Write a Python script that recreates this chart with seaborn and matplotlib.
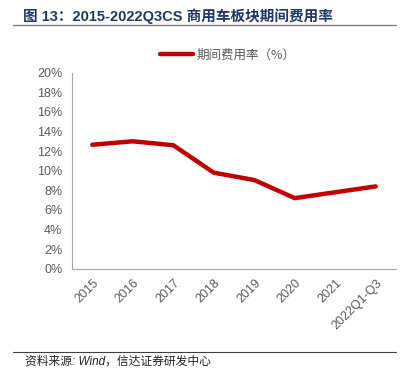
import matplotlib
matplotlib.use("Agg")
import matplotlib.pyplot as plt
import seaborn as sns
import pandas as pd
import numpy as np
from matplotlib.ticker import FixedLocator, PercentFormatter
from matplotlib.lines import Line2D

categories = ["2015", "2016", "2017", "2018", "2019", "2020", "2021", "2022Q1-Q3"]
expense_ratio = [12.65, 13.0, 12.6, 9.8, 9.05, 7.2, 7.8, 8.4]
series_name = "期间费用率（%）"
title_text = "图 13：2015-2022Q3CS 商用车板块期间费用率"
source_text = "资料来源: Wind，信达证券研发中心"

sns.set_style("white")
plt.rcParams['font.family'] = ['Liberation Sans', 'Noto Sans CJK SC', 'DejaVu Sans']

df = pd.DataFrame({"x": np.arange(len(categories)), "y": expense_ratio})

fig = plt.figure(figsize=(4.17, 3.75), dpi=100)
ax = fig.add_axes([72/417, 1-268.7/375, (396-72)/417, (268.7-72.7)/375])

red = "#C00000"
sns.lineplot(data=df, x="x", y="y", ax=ax, color=red, linewidth=3.2, legend=False)

gray = "#595959"
ax.set_xlim(-0.5, len(categories)-0.5)
ax.set_ylim(0, 20)
ax.yaxis.set_major_locator(FixedLocator(np.arange(0, 21, 2)))
ax.yaxis.set_major_formatter(PercentFormatter(decimals=0))
ax.set_xticks(np.arange(len(categories)))
ax.set_xticklabels(categories, rotation=45, ha='right', rotation_mode='anchor')
ax.set_xticks(np.arange(-0.5, len(categories), 1), minor=True)
ax.tick_params(axis='x', which='major', length=0, pad=6, labelsize=9, labelcolor=gray)
ax.tick_params(axis='x', which='minor', length=4, width=0.8, color="#A6A6A6", direction='out')
ax.tick_params(axis='y', which='major', length=4, width=0.8, color="#A6A6A6", labelsize=9,
               labelcolor=gray, pad=3, direction='out')
ax.set_xlabel("")
ax.set_ylabel("")
for s in ["top", "right"]:
    ax.spines[s].set_visible(False)
for s in ["left", "bottom"]:
    ax.spines[s].set_color("#A6A6A6")
    ax.spines[s].set_linewidth(0.8)

# Legend
handle = Line2D([0], [0], color=red, linewidth=3.2)
fig.legend([handle], [series_name], loc='center', bbox_to_anchor=(228/417, 1-55/375),
           frameon=False, handlelength=2.6, handletextpad=0.3,
           labelcolor=gray, prop={'family': ['Noto Sans CJK SC'], 'size': 9})

# Title
fig.text(23/417, 1-16/375, title_text, fontsize=10.5, fontweight='bold', color="#1F3864",
         va='center', ha='left')
fig.add_artist(Line2D([13/417, 396/417], [1-25/375, 1-25/375], color="#808080", linewidth=1))

# Footer
fig.add_artist(Line2D([13/417, 396/417], [1-352/375, 1-352/375], color="#404040", linewidth=0.8))
fig.text(25/417, 1-362/375, source_text, fontsize=8.5, style='italic', color="#222222",
         va='center', ha='left')

fig.savefig("out.png", dpi=100)
